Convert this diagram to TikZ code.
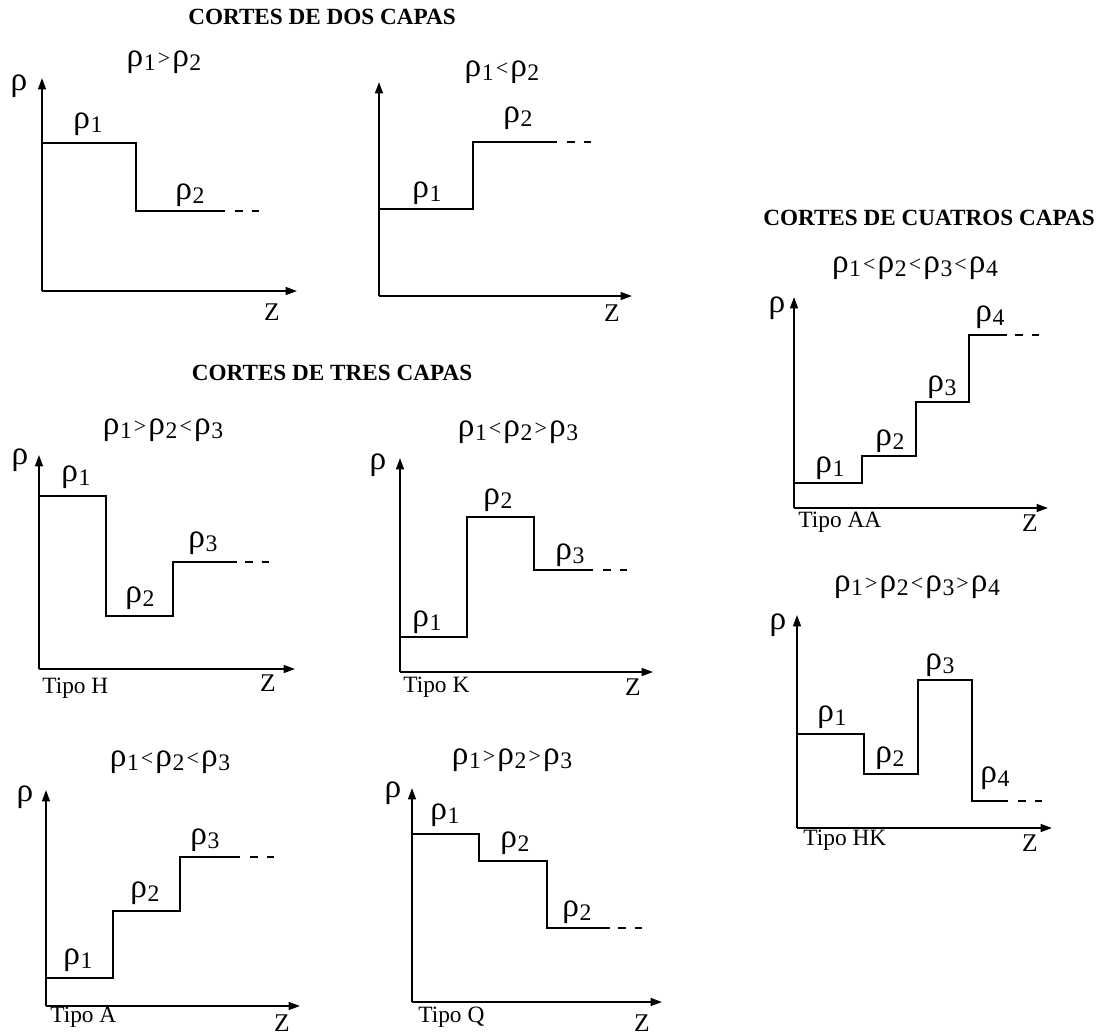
\documentclass[tikz,border=0pt]{standalone}
\usepackage{fontspec}
\setmainfont{Liberation Serif}
\usetikzlibrary{arrows.meta}
\newcommand{\rg}{{\fontsize{19}{20}\selectfont ρ}}
\newcommand{\rh}[1]{\rg\kern0.3pt\raisebox{-0.4ex}{\fontsize{13.5}{14}\selectfont #1}}
\newcommand{\rl}[1]{\kern1.2pt\raisebox{0.1ex}{\fontsize{12.5}{13}\selectfont #1}\kern1.2pt}

\begin{document}
\begin{tikzpicture}[x=0.02cm,y=-0.02cm,
    axis/.style={line width=1pt,-{Triangle[length=6.5pt,width=4.5pt]}},
    prof/.style={line width=0.85pt},
    tail/.style={line width=0.85pt,dash pattern=on 4.5pt off 5pt},
    lbl/.style={font=\fontsize{14.5}{16}\selectfont,inner sep=0pt},
    head/.style={font=\bfseries\fontsize{13.2}{15}\selectfont,inner sep=0pt},
    tipo/.style={font=\fontsize{13.3}{15}\selectfont,inner sep=0pt,anchor=west}]
  \useasboundingbox (0,0) rectangle (1111,1035);

  % titulos
  \node[head] (hd2) at (322,17) {CORTES DE DOS CAPAS};
  \node[head] (hd3) at (332,373) {CORTES DE TRES CAPAS};
  \node[head] (hd4) at (929,218) {CORTES DE CUATROS CAPAS};

  % dos capas: rho1 > rho2
  \coordinate (oA) at (42,291);
  \draw[axis] (oA) -- (42,78);
  \draw[axis] (oA) -- (297,291);
  \draw[prof] (42,143) -- (136,143) -- (136,211) -- (225,211);
  \draw[tail] (235,211) -- (259,211);
  \node[lbl] (tA) at (164,62) {\rh{1}\rl{>}\rh{2}};
  \node[lbl] (yA) at (19,86) {\rg};
  \node[lbl] (zA) at (272,312) {Z};
  \node[lbl] (a1) at (88,124) {\rh{1}};
  \node[lbl] (a2) at (190,195) {\rh{2}};

  % dos capas: rho1 < rho2
  \coordinate (oB) at (379,296);
  \draw[axis] (oB) -- (379,82);
  \draw[axis] (oB) -- (632,296);
  \draw[prof] (379,209) -- (473,209) -- (473,142) -- (557,142);
  \draw[tail] (567,142) -- (591,142);
  \node[lbl] (tB) at (502,72) {\rh{1}\rl{<}\rh{2}};
  \node[lbl] (zB) at (612,313) {Z};
  \node[lbl] (b1) at (427,193) {\rh{1}};
  \node[lbl] (b2) at (518,118) {\rh{2}};

  % tipo H
  \coordinate (oH) at (39,669);
  \draw[axis] (oH) -- (39,455);
  \draw[axis] (oH) -- (295,669);
  \draw[prof] (39,496) -- (106,496) -- (106,616) -- (173,616) -- (173,562) -- (237,562);
  \draw[tail] (245,562) -- (269,562);
  \node[lbl] (tH) at (163,430) {\rh{1}\rl{>}\rh{2}\rl{<}\rh{3}};
  \node[lbl] (yH) at (20,460) {\rg};
  \node[lbl] (zH) at (268,683) {Z};
  \node[tipo] (nH) at (42,688) {Tipo H};
  \node[lbl] (h1) at (76,477) {\rh{1}};
  \node[lbl] (h2) at (140,598) {\rh{2}};
  \node[lbl] (h3) at (203,543) {\rh{3}};

  % tipo K
  \coordinate (oK) at (400,672);
  \draw[axis] (oK) -- (400,458);
  \draw[axis] (oK) -- (653,672);
  \draw[prof] (400,637) -- (467,637) -- (467,517) -- (534,517) -- (534,570) -- (593,570);
  \draw[tail] (603,570) -- (627,570);
  \node[lbl] (tK) at (518,432) {\rh{1}\rl{<}\rh{2}\rl{>}\rh{3}};
  \node[lbl] (yK) at (378,465) {\rg};
  \node[lbl] (zK) at (633,687) {Z};
  \node[tipo] (nK) at (403,687) {Tipo K};
  \node[lbl] (k1) at (427,622) {\rh{1}};
  \node[lbl] (k2) at (498,500) {\rh{2}};
  \node[lbl] (k3) at (570,555) {\rh{3}};

  % tipo A
  \coordinate (oT) at (46,1006);
  \draw[axis] (oT) -- (46,790);
  \draw[axis] (oT) -- (300,1006);
  \draw[prof] (46,978) -- (113,978) -- (113,911) -- (180,911) -- (180,857) -- (240,857);
  \draw[tail] (250,857) -- (274,857);
  \node[lbl] (tT) at (170,762) {\rh{1}\rl{<}\rh{2}\rl{<}\rh{3}};
  \node[lbl] (yT) at (25,797) {\rg};
  \node[lbl] (zT) at (282,1023) {Z};
  \node[tipo] (nT) at (50,1017) {Tipo A};
  \node[lbl] (t1) at (78,960) {\rh{1}};
  \node[lbl] (t2) at (145,893) {\rh{2}};
  \node[lbl] (t3) at (205,840) {\rh{3}};

  % tipo Q
  \coordinate (oQ) at (412,1002);
  \draw[axis] (oQ) -- (412,788);
  \draw[axis] (oQ) -- (662,1002);
  \draw[prof] (412,834) -- (479,834) -- (479,861) -- (547,861) -- (547,928) -- (610,928);
  \draw[tail] (618,928) -- (642,928);
  \node[lbl] (tQ) at (512,760) {\rh{1}\rl{>}\rh{2}\rl{>}\rh{3}};
  \node[lbl] (yQ) at (393,793) {\rg};
  \node[lbl] (zQ) at (642,1023) {Z};
  \node[tipo] (nQ) at (418,1017) {Tipo Q};
  \node[lbl] (q1) at (445,815) {\rh{1}};
  \node[lbl] (q2) at (515,843) {\rh{2}};
  \node[lbl] (q3) at (577,912) {\rh{2}};

  % tipo AA
  \coordinate (oAA) at (794,508);
  \draw[axis] (oAA) -- (794,297);
  \draw[axis] (oAA) -- (1048,508);
  \draw[prof] (794,483) -- (862,483) -- (862,456) -- (916,456) -- (916,402) -- (969,402) -- (969,335) -- (1007,335);
  \draw[tail] (1015,335) -- (1039,335);
  \node[lbl] (tAA) at (915,268) {\rh{1}\rl{<}\rh{2}\rl{<}\rh{3}\rl{<}\rh{4}};
  \node[lbl] (yAA) at (777,308) {\rg};
  \node[lbl] (zAA) at (1030,523) {Z};
  \node[tipo] (nAA) at (798,522) {Tipo AA};
  \node[lbl] (aa1) at (830,468) {\rh{1}};
  \node[lbl] (aa2) at (890,441) {\rh{2}};
  \node[lbl] (aa3) at (942,387) {\rh{3}};
  \node[lbl] (aa4) at (990,317) {\rh{4}};

  % tipo HK
  \coordinate (oHK) at (797,828);
  \draw[axis] (oHK) -- (797,615);
  \draw[axis] (oHK) -- (1052,828);
  \draw[prof] (797,734) -- (864,734) -- (864,774) -- (918,774) -- (918,680) -- (972,680) -- (972,801) -- (1008,801);
  \draw[tail] (1018,801) -- (1042,801);
  \node[lbl] (tHK) at (917,587) {\rh{1}\rl{>}\rh{2}\rl{<}\rh{3}\rl{>}\rh{4}};
  \node[lbl] (yHK) at (778,625) {\rg};
  \node[lbl] (zHK) at (1030,843) {Z};
  \node[tipo] (nHK) at (803,840) {Tipo HK};
  \node[lbl] (hk1) at (832,717) {\rh{1}};
  \node[lbl] (hk2) at (890,758) {\rh{2}};
  \node[lbl] (hk3) at (940,665) {\rh{3}};
  \node[lbl] (hk4) at (995,778) {\rh{4}};
\end{tikzpicture}
\end{document}
